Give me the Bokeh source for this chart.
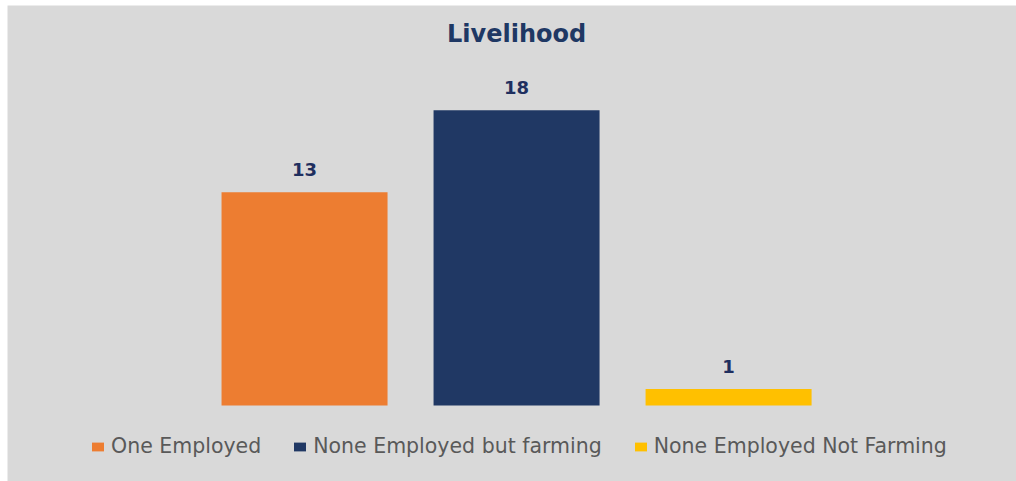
import numpy as np
from bokeh.plotting import figure
from bokeh.models import ColumnDataSource, Range1d, Label, Legend
from bokeh.core.properties import value
from bokeh.embed import file_html
from bokeh.resources import INLINE

title_text = "Livelihood"
categories = ["One Employed", "None Employed but farming", "None Employed Not Farming"]
counts = [13, 18, 1]
colors = ["#ed7d31", "#203864", "#ffc000"]

xs = np.arange(len(categories))
src = ColumnDataSource(dict(x=xs, top=counts, cat=categories, color=colors,
                            lbl=[str(v) for v in counts]))

p = figure(width=1009, height=476, output_backend="svg", toolbar_location=None,
           x_axis_type=None, y_axis_type=None,
           x_range=Range1d(-1.401, 3.358), y_range=Range1d(-4.634, 24.39),
           min_border=0, min_border_left=0, min_border_right=0,
           min_border_top=0, min_border_bottom=0)
p.margin = (5, 0, 0, 7)
p.background_fill_color = "#d9d9d9"
p.border_fill_color = "#d9d9d9"
p.outline_line_color = None
p.grid.visible = False

p.vbar(x="x", top="top", bottom=0, width=0.783, fill_color="color",
       line_color=None, source=src, legend_field="cat")

p.text(x="x", y="top", text="lbl", source=src, text_align="center",
       text_baseline="alphabetic", y_offset=-23,
       text_font=value("DejaVu Sans"), text_font_style="bold",
       text_font_size="18px", text_color="#1f2f5f")

p.add_layout(Label(x=xs.mean(), y=max(counts) * 1.26, text=title_text,
                   text_align="center", text_baseline="middle",
                   text_font="DejaVu Sans", text_font_style="bold",
                   text_font_size="24px", text_color="#1f3864"))

leg = p.legend[0]
leg.orientation = "horizontal"
leg.location = (83, 23)
leg.margin = 0
leg.padding = 0
leg.spacing = 31
leg.label_standoff = 6
leg.glyph_width = 15
leg.glyph_height = 11
leg.label_height = 11
leg.label_text_font = "DejaVu Sans"
leg.label_text_font_size = "20.5px"
leg.label_text_color = "#595959"
leg.label_text_baseline = "middle"
leg.background_fill_alpha = 0
leg.border_line_color = None

open("out.html", "w").write(file_html(p, INLINE))
